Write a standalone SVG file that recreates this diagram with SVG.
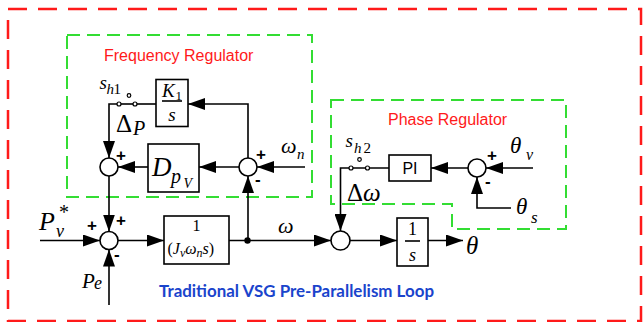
<svg xmlns="http://www.w3.org/2000/svg" width="643" height="322" viewBox="0 0 643 322">
<defs>
<marker id="ah" markerUnits="userSpaceOnUse" markerWidth="17" markerHeight="12" refX="17" refY="6" orient="auto">
<path d="M0,0 L17,6 L0,12 z" fill="#000"/>
</marker>
<style>
.ln{fill:none;stroke:#000;stroke-width:1.6}
.ar{fill:none;stroke:#000;stroke-width:1.6;marker-end:url(#ah)}
.blk{fill:#fff;stroke:#000;stroke-width:1.6}
.sum{fill:#fff;stroke:#000;stroke-width:1.6}
.ct{fill:#fff;stroke:#000;stroke-width:1.2}
.m{font-family:"Liberation Serif",serif;font-style:italic;fill:#000}
.r{font-family:"Liberation Serif",serif;fill:#000}
.sg{font-family:"Liberation Sans",Arial,sans-serif;font-weight:bold;font-size:17px;fill:#000}
.title{font-family:"Liberation Sans",Arial,sans-serif;font-size:16px;fill:#ff1a1a}
.red{fill:none;stroke:#ff1a1a;stroke-width:2.5;stroke-dasharray:19 11}
.grn{fill:none;stroke:#33dd33;stroke-width:2;stroke-dasharray:13 7}
</style>
</defs>

<rect class="red" x="8" y="9" width="633" height="312"/>
<rect class="grn" x="67" y="35" width="245" height="162"/>
<path class="grn" d="M331,100 L566,100 L566,229 L452,229 L452,204 L331,204 Z"/>

<text class="title" x="104" y="61">Frequency Regulator</text>
<text class="title" x="388" y="124.5">Phase Regulator</text>
<text x="159" y="297" font-family="Lato,'Open Sans',sans-serif" font-weight="bold" font-size="17" fill="#1a44cc" textLength="275" lengthAdjust="spacingAndGlyphs">Traditional VSG Pre-Parallelism Loop</text>

<g id="connectors">
<line class="ar" x1="40" y1="240.5" x2="100" y2="240.5"/>
<line class="ar" x1="109" y1="305" x2="109" y2="249.5"/>
<line class="ar" x1="109" y1="176" x2="109" y2="231.5"/>
<line class="ar" x1="118" y1="240.5" x2="164" y2="240.5"/>
<line class="ar" x1="229" y1="240.5" x2="331" y2="240.5"/>
<line class="ar" x1="248" y1="240.5" x2="248" y2="176"/>
<line class="ar" x1="305" y1="167" x2="257" y2="167"/>
<line class="ar" x1="239" y1="167" x2="199" y2="167"/>
<line class="ar" x1="148" y1="167" x2="118" y2="167"/>
<polyline class="ar" points="248,158 248,104 188,104"/>
<line class="ln" x1="156" y1="104" x2="135" y2="104"/>
<line class="ln" x1="119" y1="104" x2="135" y2="104"/>
<polyline class="ar" points="119,104 109,104 109,158"/>
<line class="ar" x1="533" y1="168" x2="486" y2="168"/>
<polyline class="ar" points="511,208 477,208 477,177"/>
<line class="ar" x1="468" y1="168" x2="431" y2="168"/>
<line class="ln" x1="389" y1="168" x2="351" y2="168"/>
<polyline class="ar" points="351,168 340.5,168 340.5,231"/>
<line class="ar" x1="350" y1="240.5" x2="397" y2="240.5"/>
<line class="ar" x1="428" y1="240.5" x2="463" y2="240.5"/>
<circle cx="247.5" cy="240.5" r="3.2" fill="#000"/>
</g>

<g id="switch1">
<circle class="ct" cx="119" cy="104" r="2"/>
<circle class="ct" cx="135" cy="104" r="2"/>
<circle class="ct" cx="129" cy="95.5" r="1.8"/>
<text class="m" x="99.5" y="89" font-size="19">s</text>
<text class="m" x="106.5" y="94" font-size="15">h</text>
<text class="r" x="113.5" y="94" font-size="15">1</text>
<text class="r" x="116" y="132" font-size="25">Δ</text>
<text class="m" x="133" y="135" font-size="20">P</text>
</g>

<g id="switch2">
<circle class="ct" cx="351" cy="168" r="2"/>
<circle class="ct" cx="367.5" cy="168" r="2"/>
<circle class="ct" cx="359.5" cy="159.5" r="1.8"/>
<text class="m" x="345.5" y="147" font-size="19">s</text>
<text class="m" x="354" y="152.5" font-size="15">h</text>
<text class="r" x="363.5" y="152.5" font-size="15">2</text>
<text class="r" x="347" y="200.5" font-size="25">Δ<tspan class="m">ω</tspan></text>
</g>

<g id="K1s">
<rect class="blk" x="156" y="79.5" width="32" height="47"/>
<text class="m" x="162" y="97" font-size="19">K</text>
<text class="r" x="175.5" y="100" font-size="13">1</text>
<line class="ln" x1="162" y1="101" x2="182" y2="101"/>
<text class="m" x="172" y="121" font-size="19" text-anchor="middle">s</text>
</g>

<g id="Dpv">
<rect class="blk" x="148" y="144" width="51" height="48"/>
<text class="m" x="152" y="175.5" font-size="27">D</text>
<text class="m" x="171" y="183" font-size="20">p</text>
<text class="m" x="183.5" y="188" font-size="14">V</text>
</g>

<g id="sum1"><circle class="sum" cx="109" cy="167" r="9"/><text class="sg" x="116" y="161">+</text></g>
<g id="sum2"><circle class="sum" cx="248" cy="167" r="9"/><text class="sg" x="256" y="160">+</text><text class="sg" x="255" y="185">-</text></g>
<g id="sum3"><circle class="sum" cx="109" cy="240.5" r="9"/><text class="sg" x="87" y="231">+</text><text class="sg" x="116" y="226">+</text><text class="sg" x="114" y="260">-</text></g>
<g id="sum4"><circle class="sum" cx="340.5" cy="240.5" r="9.5"/></g>
<g id="sum5"><circle class="sum" cx="477" cy="168" r="9"/><text class="sg" x="487" y="161">+</text><text class="sg" x="485" y="187">-</text></g>

<g id="Jblock">
<rect class="blk" x="164" y="216" width="65" height="48"/>
<text class="r" x="196.5" y="231" font-size="16" text-anchor="middle">1</text>
<text class="r" x="167.5" y="254" font-size="16">(<tspan class="m">J</tspan><tspan class="m" font-size="12" dy="3">v</tspan><tspan class="m" dy="-3">ω</tspan><tspan class="m" font-size="12" dy="3">n</tspan><tspan class="m" dy="-3">s</tspan>)</text>
</g>

<g id="Iblock">
<rect class="blk" x="397" y="218" width="31" height="48"/>
<text class="r" x="412.5" y="235" font-size="18" text-anchor="middle">1</text>
<line class="ln" x1="405" y1="241" x2="420" y2="241"/>
<text class="m" x="412.5" y="261" font-size="18" text-anchor="middle">s</text>
</g>

<g id="PI">
<rect class="blk" x="389" y="155" width="42" height="26"/>
<text x="410" y="174" font-family="Liberation Sans,Arial,sans-serif" font-size="16" text-anchor="middle">PI</text>
</g>

<g id="labels">
<text class="m" x="39" y="230" font-size="26">P</text>
<text class="m" x="56" y="237" font-size="18">v</text>
<text class="r" x="59" y="219" font-size="20">*</text>
<text class="m" x="82" y="288" font-size="21">P</text>
<text class="m" x="94" y="289" font-size="18">e</text>
<text class="m" x="281" y="153" font-size="22">ω</text>
<text class="m" x="297" y="159" font-size="15">n</text>
<text class="m" x="278" y="233" font-size="22">ω</text>
<text class="m" x="466" y="254" font-size="25">θ</text>
<text class="m" x="510" y="153" font-size="23">θ</text>
<text class="m" x="526" y="160" font-size="16">v</text>
<text class="m" x="516" y="214" font-size="23">θ</text>
<text class="m" x="531" y="223" font-size="17">s</text>
</g>
</svg>
